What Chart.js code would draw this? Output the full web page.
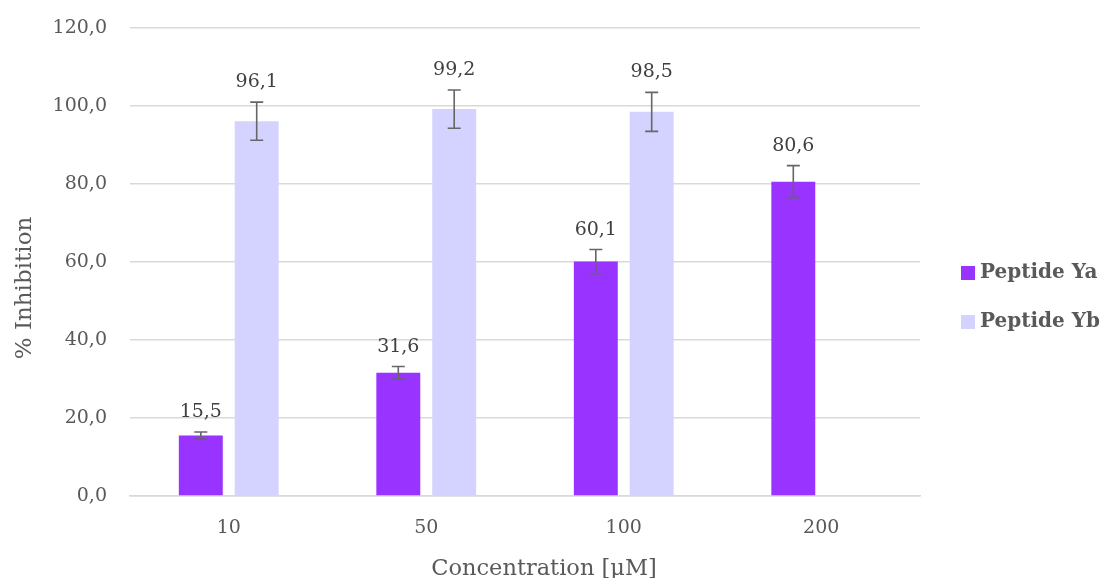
<!DOCTYPE html>
<html>
<head>
<meta charset="utf-8">
<script src="https://cdn.jsdelivr.net/npm/chart.js@4/dist/chart.umd.min.js"></script>
<style>
  body { margin: 0; background: #fff; }
  #wrap { width: 1104px; height: 578px; }
</style>
</head>
<body>
<div id="wrap"><canvas id="grafica"></canvas></div>
<script>
var categories = ['10', '50', '100', '200'];
var peptideYa = [15.5, 31.6, 60.1, 80.6];
var peptideYb = [96.1, 99.2, 98.5, null];
var errorYa = [0.9, 1.6, 3.1, 4.1];
var errorYb = [4.9, 4.9, 5.0, null];
var yTicks = [0, 20, 40, 60, 80, 100, 120];

var serif = "'DejaVu Serif', serif";
var gris = '#595959';

function coma(v) {
    return v.toFixed(1).replace('.', ',');
}

// barras de error + etiquetas encima
var barrasError = {
    id: 'barrasError',
    afterDatasetsDraw: function(chart) {
        var ctx = chart.ctx;
        var y = chart.scales.y;
        chart.data.datasets.forEach(function(ds, i) {
            var meta = chart.getDatasetMeta(i);
            meta.data.forEach(function(bar, j) {
                var v = ds.data[j];
                if (v === null) return;
                var e = ds.errores[j];
                var top = y.getPixelForValue(v + e);
                var bot = y.getPixelForValue(v - e);
                ctx.save();
                ctx.strokeStyle = '#666666';
                ctx.lineWidth = 1.6;
                ctx.beginPath();
                ctx.moveTo(bar.x, top); ctx.lineTo(bar.x, bot);
                ctx.moveTo(bar.x - 6.5, top); ctx.lineTo(bar.x + 6.5, top);
                ctx.moveTo(bar.x - 6.5, bot); ctx.lineTo(bar.x + 6.5, bot);
                ctx.stroke();
                ctx.fillStyle = '#404040';
                ctx.font = '19px ' + serif;
                ctx.textAlign = 'center';
                ctx.textBaseline = 'alphabetic';
                ctx.fillText(coma(v), bar.x, top - 15);
                ctx.restore();
            });
        });
    }
};

// leyenda a la derecha y titulos de ejes (posicion como en Excel)
var leyendaTitulos = {
    id: 'leyendaTitulos',
    afterDraw: function(chart) {
        var ctx = chart.ctx;
        ctx.save();
        ctx.fillStyle = gris;
        ctx.font = '23px ' + serif;
        ctx.textAlign = 'center';
        ctx.textBaseline = 'middle';
        ctx.translate(25, 288);
        ctx.rotate(-Math.PI / 2);
        ctx.fillText('% Inhibition', 0, 0);
        ctx.restore();

        ctx.save();
        ctx.fillStyle = gris;
        ctx.font = '22.5px ' + serif;
        ctx.textAlign = 'center';
        ctx.textBaseline = 'alphabetic';
        ctx.fillText('Concentration [µM]', 544, 575);
        ctx.restore();

        var x0 = chart.chartArea.right + 41;
        chart.data.datasets.forEach(function(ds, i) {
            var yc = 273 + i * 49;
            ctx.save();
            ctx.fillStyle = ds.backgroundColor;
            ctx.fillRect(x0, yc - 7, 14, 14);
            ctx.fillStyle = gris;
            ctx.font = 'bold 20px ' + serif;
            ctx.textAlign = 'left';
            ctx.textBaseline = 'middle';
            ctx.fillText(ds.label, x0 + 19, yc);
            ctx.restore();
        });
    }
};

var grafica = document.getElementById('grafica');
var myBarChart = new Chart(grafica, {
    type: 'bar',
    data: {
        labels: categories,
        datasets: [{
            label: 'Peptide Ya',
            data: peptideYa,
            errores: errorYa,
            backgroundColor: '#9933FF'
        }, {
            label: 'Peptide Yb',
            data: peptideYb,
            errores: errorYb,
            backgroundColor: '#D4D2FF'
        }]
    },
    options: {
        responsive: true,
        maintainAspectRatio: false,
        animation: false,
        categoryPercentage: 0.566,
        barPercentage: 0.786,
        layout: { padding: { top: 28, right: 184, left: 0, bottom: 0 } },
        plugins: {
            tooltip: { enabled: false },
            legend: { display: false }
        },
        scales: {
            x: {
                grid: { display: false, drawTicks: false },
                border: { color: '#d9d9d9', width: 1.5 },
                ticks: { color: gris, padding: 21, font: { family: serif, size: 19 } },
                afterFit: function(scale) {
                    scale.height = 82;
                    scale.paddingLeft = 0;
                    scale.paddingRight = 0;
                }
            },
            y: {
                min: 0,
                max: 120,
                afterBuildTicks: function(scale) {
                    scale.ticks = yTicks.map(function(v) { return { value: v }; });
                },
                grid: { color: '#d9d9d9', lineWidth: 1.5, drawTicks: false },
                border: { display: false },
                ticks: {
                    color: gris,
                    padding: 23,
                    font: { family: serif, size: 19 },
                    callback: function(v) { return coma(v); }
                },
                afterFit: function(scale) {
                    scale.width = 130;
                    scale.paddingTop = 0;
                    scale.paddingBottom = 0;
                }
            }
        }
    },
    plugins: [barrasError, leyendaTitulos]
});
</script>
</body>
</html>
